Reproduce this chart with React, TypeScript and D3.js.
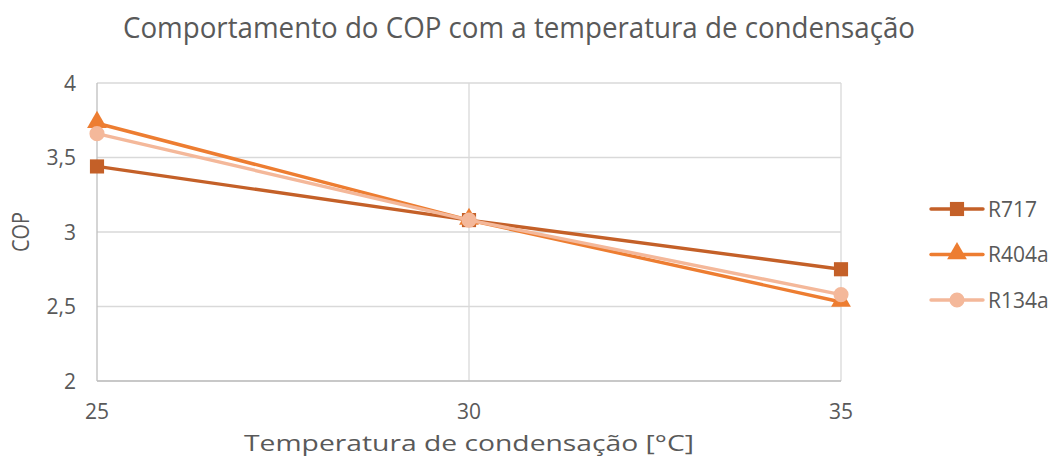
import React from "react";
import * as d3 from "d3";

const categories = [25, 30, 35];
const seriesNames = ["R717", "R404a", "R134a"];
const r717 = [3.44, 3.08, 2.75];
const r404a = [3.73, 3.08, 2.53];
const r134a = [3.66, 3.08, 2.58];
const yTicks = [2, 2.5, 3, 3.5, 4];
const title = "Comportamento do COP com a temperatura de condensação";
const xTitle = "Temperatura de condensação [°C]";
const yTitle = "COP";

const colors = ["#C46028", "#ED7D31", "#F4B89A"];
const shapes = [d3.symbolSquare, d3.symbolTriangle, d3.symbolCircle];
const sizes = [200, 170, 180];

const W = 1049, H = 456;
const font = "'Open Sans', sans-serif";
const txt = "#595959";

export default function App() {
  const x = d3.scaleLinear().domain([25, 35]).range([97, 841]);
  const y = d3.scaleLinear().domain([2, 4]).range([381, 83]);
  const data = [r717, r404a, r134a];
  const line = d3.line<number>().x((_, i) => x(categories[i])).y((d) => y(d));
  const fmt = (v: number) => String(v).replace(".", ",");
  return (
    <svg width={W} height={H} style={{ display: "block", position: "absolute", left: 0, top: 0 }} fontFamily={font}>
      <rect width={W} height={H} fill="#fff" />
      <text x={519} y={38} textAnchor="middle" fontSize={30} fill={txt} textLength={792} lengthAdjust="spacingAndGlyphs">{title}</text>
      {yTicks.map((t) => (
        <line key={t} x1={97} x2={841} y1={y(t)} y2={y(t)} stroke="#D9D9D9" strokeWidth={1.3} />
      ))}
      {categories.slice(1).map((c) => (
        <line key={c} x1={x(c)} x2={x(c)} y1={83} y2={381} stroke="#D9D9D9" strokeWidth={1.3} />
      ))}
      <line x1={97} x2={97} y1={83} y2={381} stroke="#BFBFBF" strokeWidth={1.3} />
      <line x1={97} x2={841} y1={381} y2={381} stroke="#BFBFBF" strokeWidth={1.3} />
      {yTicks.map((t) => (
        <text key={t} x={76} y={y(t)} dy="0.36em" textAnchor="end" fontSize={21} fill={txt}>{fmt(t)}</text>
      ))}
      {categories.map((c) => (
        <text key={c} x={x(c)} y={411} dy="0.36em" textAnchor="middle" fontSize={21} fill={txt}>{c}</text>
      ))}
      <text x={469} y={451} textAnchor="middle" fontSize={22} fill={txt} textLength={450} lengthAdjust="spacingAndGlyphs">{xTitle}</text>
      <text transform={`translate(29,232) rotate(-90)`} textAnchor="middle" fontSize={24} fill={txt} textLength={40} lengthAdjust="spacingAndGlyphs">{yTitle}</text>
      {data.map((s, k) => (
        <g key={k}>
          <path d={line(s) || ""} fill="none" stroke={colors[k]} strokeWidth={3.4} strokeLinecap="round" />
          {s.map((v, i) => (
            <path key={i} d={d3.symbol().type(shapes[k]).size(sizes[k])() || ""}
              transform={`translate(${x(categories[i])},${y(v) + (k === 1 ? -1 : 0)})`} fill={colors[k]} />
          ))}
        </g>
      ))}
      {seriesNames.map((n, k) => {
        const ly = 209 + k * 45.5;
        return (
          <g key={n}>
            <line x1={931} x2={983} y1={ly} y2={ly} stroke={colors[k]} strokeWidth={3.4} strokeLinecap="round" />
            <path d={d3.symbol().type(shapes[k]).size(sizes[k])() || ""} transform={`translate(957,${ly + (k === 1 ? -1 : 0)})`} fill={colors[k]} />
            <text x={988} y={ly} dy="0.36em" fontSize={21} fill={txt}>{n}</text>
          </g>
        );
      })}
    </svg>
  );
}
